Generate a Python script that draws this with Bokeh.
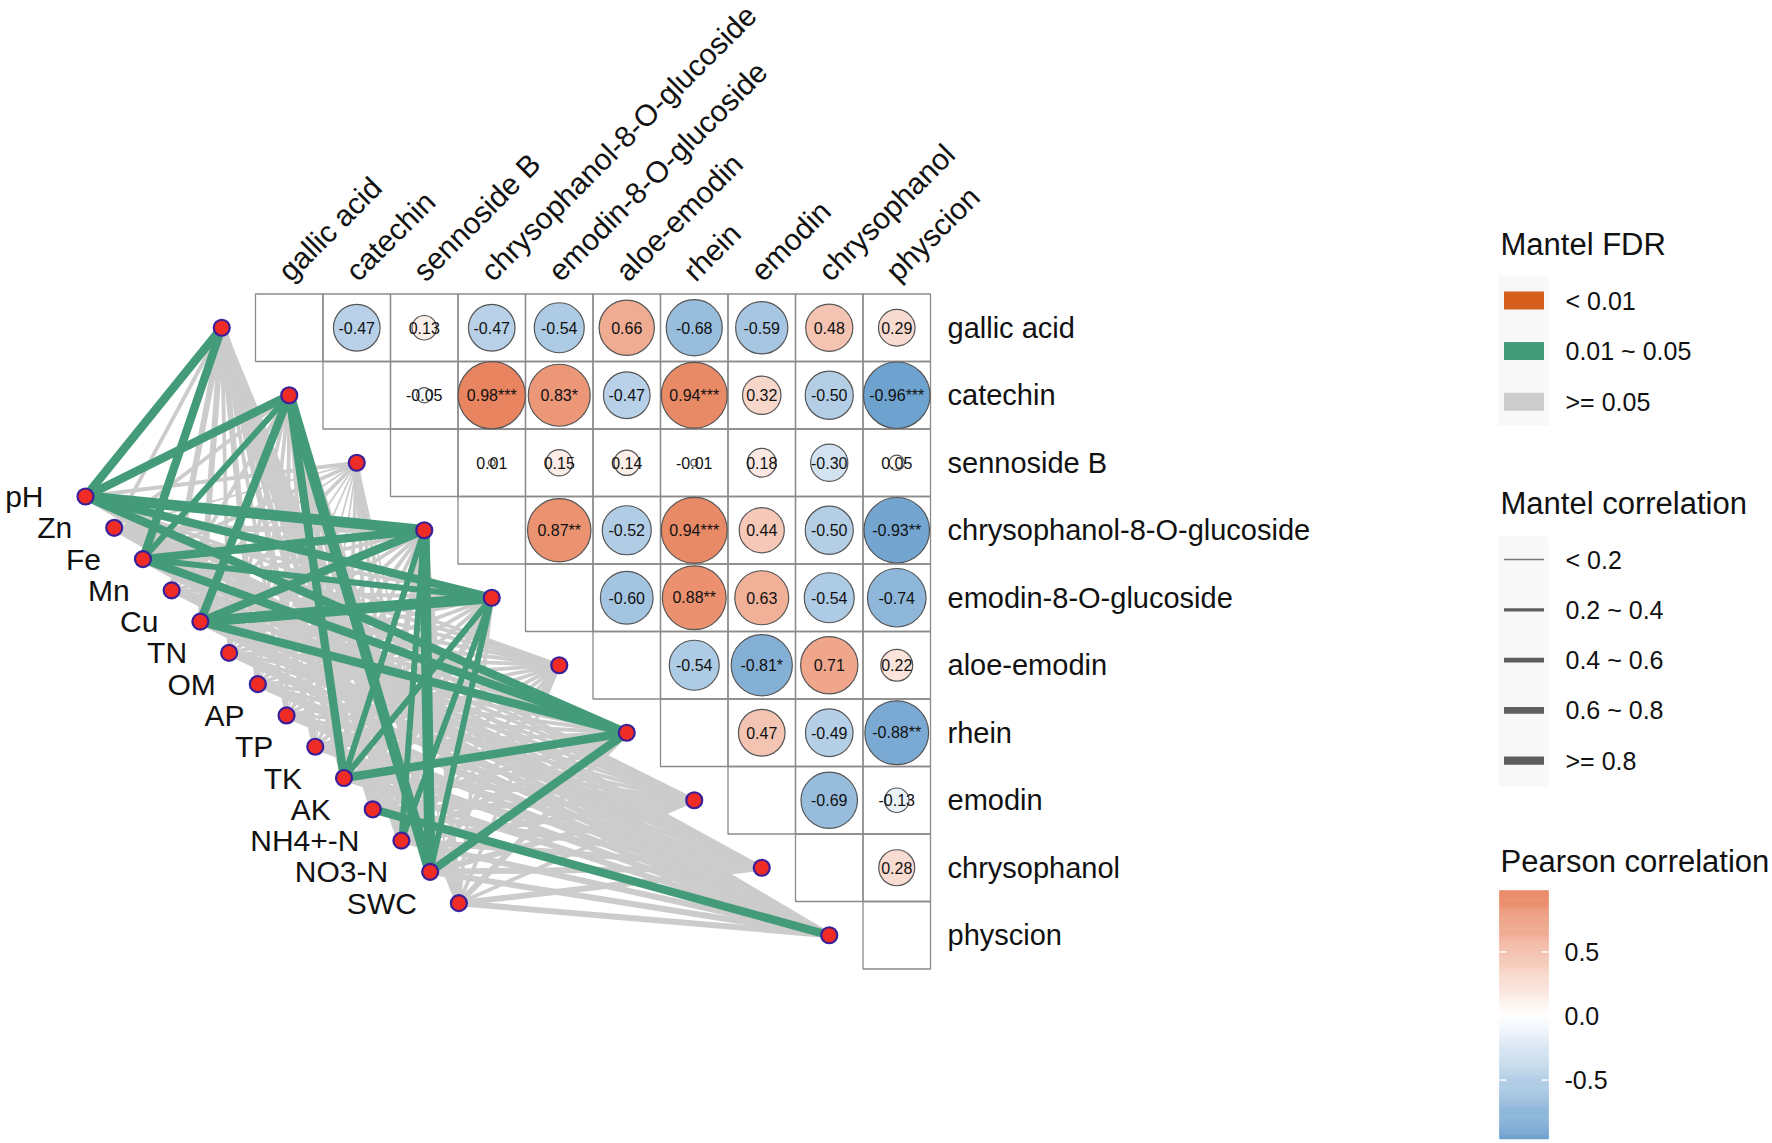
import numpy as np
from bokeh.plotting import figure
from bokeh.models import Range1d, ColumnDataSource
from bokeh.embed import file_html
from bokeh.resources import INLINE
from bokeh.core.properties import value

# ---------------- data ----------------
compounds = ["gallic acid", "catechin", "sennoside B", "chrysophanol-8-O-glucoside",
             "emodin-8-O-glucoside", "aloe-emodin", "rhein", "emodin",
             "chrysophanol", "physcion"]
env_factors = ["pH", "Zn", "Fe", "Mn", "Cu", "TN", "OM", "AP", "TP", "TK", "AK",
               "NH4+-N", "NO3-N", "SWC"]

# Pearson correlations, upper triangle (row i, columns i+1 ...)
pearson_upper = [
    [-0.47, 0.13, -0.47, -0.54, 0.66, -0.68, -0.59, 0.48, 0.29],
    [-0.05, 0.98, 0.83, -0.47, 0.94, 0.32, -0.50, -0.96],
    [0.01, 0.15, 0.14, -0.01, 0.18, -0.30, 0.05],
    [0.87, -0.52, 0.94, 0.44, -0.50, -0.93],
    [-0.60, 0.88, 0.63, -0.54, -0.74],
    [-0.54, -0.81, 0.71, 0.22],
    [0.47, -0.49, -0.88],
    [-0.69, -0.13],
    [0.28],
    [],
]
pearson_stars = [
    ["", "", "", "", "", "", "", "", ""],
    ["", "***", "*", "", "***", "", "", "***"],
    ["", "", "", "", "", "", ""],
    ["**", "", "***", "", "", "**"],
    ["", "**", "", "", ""],
    ["", "*", "", ""],
    ["", "", "**"],
    ["", ""],
    [""],
    [],
]

# Mantel r (rows: env factors, columns: compounds)
mantel_r = [
    [0.70, 0.70, 0.20, 0.85, 0.70, 0.30, 0.70, 0.30, 0.35, 0.40],  # pH
    [0.35, 0.35, 0.15, 0.40, 0.35, 0.30, 0.40, 0.30, 0.30, 0.40],  # Zn
    [0.75, 0.55, 0.20, 0.70, 0.55, 0.30, 0.70, 0.35, 0.35, 0.45],  # Fe
    [0.40, 0.35, 0.15, 0.35, 0.30, 0.25, 0.35, 0.30, 0.30, 0.35],  # Mn
    [0.50, 0.65, 0.20, 0.70, 0.85, 0.35, 0.65, 0.35, 0.40, 0.50],  # Cu
    [0.35, 0.35, 0.12, 0.35, 0.35, 0.25, 0.35, 0.30, 0.30, 0.40],  # TN
    [0.40, 0.30, 0.15, 0.35, 0.35, 0.25, 0.35, 0.30, 0.35, 0.45],  # OM
    [0.35, 0.35, 0.12, 0.30, 0.30, 0.22, 0.30, 0.25, 0.30, 0.40],  # AP
    [0.45, 0.35, 0.15, 0.35, 0.35, 0.25, 0.35, 0.30, 0.35, 0.45],  # TP
    [0.50, 0.65, 0.20, 0.55, 0.55, 0.35, 0.70, 0.40, 0.40, 0.55],  # TK
    [0.55, 0.45, 0.20, 0.45, 0.40, 0.30, 0.45, 0.40, 0.45, 0.65],  # AK
    [0.65, 0.55, 0.22, 0.60, 0.55, 0.35, 0.50, 0.45, 0.45, 0.60],  # NH4+-N
    [0.50, 0.85, 0.22, 0.85, 0.60, 0.40, 0.70, 0.45, 0.50, 0.60],  # NO3-N
    [0.40, 0.45, 0.15, 0.40, 0.35, 0.30, 0.40, 0.35, 0.40, 0.55],  # SWC
]
# Mantel FDR-adjusted p
mantel_fdr = [
    [0.03, 0.03, 0.60, 0.02, 0.03, 0.30, 0.03, 0.40, 0.30, 0.20],
    [0.20, 0.25, 0.70, 0.15, 0.20, 0.40, 0.15, 0.50, 0.40, 0.30],
    [0.03, 0.04, 0.60, 0.03, 0.04, 0.30, 0.03, 0.45, 0.35, 0.20],
    [0.20, 0.25, 0.70, 0.20, 0.30, 0.45, 0.25, 0.50, 0.45, 0.35],
    [0.12, 0.03, 0.60, 0.03, 0.02, 0.30, 0.03, 0.40, 0.35, 0.15],
    [0.25, 0.25, 0.70, 0.25, 0.25, 0.45, 0.25, 0.45, 0.40, 0.30],
    [0.20, 0.30, 0.70, 0.25, 0.25, 0.40, 0.25, 0.45, 0.35, 0.20],
    [0.25, 0.25, 0.75, 0.25, 0.30, 0.50, 0.30, 0.50, 0.45, 0.30],
    [0.15, 0.25, 0.70, 0.25, 0.25, 0.40, 0.25, 0.40, 0.35, 0.20],
    [0.12, 0.03, 0.60, 0.04, 0.04, 0.30, 0.03, 0.30, 0.30, 0.12],
    [0.10, 0.15, 0.60, 0.15, 0.20, 0.35, 0.15, 0.30, 0.20, 0.04],
    [0.07, 0.10, 0.55, 0.04, 0.045, 0.30, 0.10, 0.25, 0.25, 0.10],
    [0.12, 0.02, 0.55, 0.02, 0.04, 0.25, 0.03, 0.25, 0.20, 0.10],
    [0.20, 0.15, 0.70, 0.20, 0.25, 0.35, 0.20, 0.30, 0.30, 0.12],
]

fdr_labels = ["< 0.01", "0.01 ~ 0.05", ">= 0.05"]
r_labels = ["< 0.2", "0.2 ~ 0.4", "0.4 ~ 0.6", "0.6 ~ 0.8", ">= 0.8"]
cbar_ticks = [0.5, 0.0, -0.5]

# ---------------- style ----------------
FONT = value("Liberation Sans")
FDR_COLORS = ["#D65F1E", "#449B79", "#CCCCCC"]
KEY_WIDTHS = [1.5, 3.2, 4.9, 6.6, 8.3]
EDGE_WIDTHS = [1.8, 3.8, 6.0, 8.4, 10.8]
POS = np.array([232, 130, 92])
NEG = np.array([104, 158, 205])
WHITE = np.array([255, 255, 255])


def pcol(v):
    c = WHITE + (POS - WHITE) * v if v >= 0 else WHITE + (NEG - WHITE) * (-v)
    return "#%02x%02x%02x" % tuple(int(round(x)) for x in c)


def fdr_class(pv):
    return 0 if pv < 0.01 else (1 if pv < 0.05 else 2)


def r_class(r):
    return min(int(r / 0.2), 4)


W, H = 1770, 1141
p = figure(width=W, height=H, x_range=Range1d(0, W), y_range=Range1d(H, 0),
           output_backend="svg", toolbar_location=None, min_border=0,
           x_axis_location=None, y_axis_location=None)
p.xgrid.visible = False
p.ygrid.visible = False
p.outline_line_color = None
p.background_fill_color = "white"

# layout
GX, GY, CELL = 255.0, 293.5, 67.5
n = len(compounds)


def cx(j):
    return GX + CELL * (j + 0.5)


def cy(i):
    return GY + CELL * (i + 0.5)


comp_x = [cx(i) - CELL for i in range(n)]
comp_y = [cy(i) for i in range(n)]
m = len(env_factors)
env_x = [85 + 28.72 * k for k in range(m)]
env_y = [496 + 31.28 * k for k in range(m)]

# ---------------- network edges ----------------
edges = []
for k in range(m):
    for j in range(n):
        edges.append((fdr_class(mantel_fdr[k][j]), k, j))
edges.sort(key=lambda e: -e[0])
es = ColumnDataSource(dict(
    xs=[[env_x[k], comp_x[j]] for c, k, j in edges],
    ys=[[env_y[k], comp_y[j]] for c, k, j in edges],
    color=[FDR_COLORS[c] for c, k, j in edges],
    w=[EDGE_WIDTHS[r_class(mantel_r[k][j])] for c, k, j in edges],
))
p.multi_line(xs="xs", ys="ys", line_color="color", line_width="w", source=es)

# nodes
p.scatter(x=comp_x + env_x, y=comp_y + env_y, size=16, marker="circle",
          fill_color="#EE2B25", line_color="#3A1F9C", line_width=2.2)

# env labels
p.text(x=[x - 42 for x in env_x], y=env_y, text=env_factors, text_align="right",
       text_baseline="middle", text_font=FONT, text_font_size="30px", text_color="#111111")

# ---------------- correlation matrix ----------------
gx, gy = [], []
for i in range(n):
    for j in range(i, n):
        gx.append(cx(j))
        gy.append(cy(i))
p.rect(x=gx, y=gy, width=CELL, height=CELL, fill_color=None,
       line_color="#8A8A8A", line_width=1.3)

px_, py_, pr, pc, pt = [], [], [], [], []
for i, row in enumerate(pearson_upper):
    for t, v in enumerate(row):
        j = i + 1 + t
        px_.append(cx(j))
        py_.append(cy(i))
        pr.append(34.0 * np.sqrt(abs(v)))
        pc.append(pcol(v))
        pt.append(f"{v:.2f}{pearson_stars[i][t]}")
p.circle(x=px_, y=py_, radius=pr, fill_color=pc, line_color="#555555", line_width=1.2)
p.text(x=px_, y=py_, text=pt, text_align="center", text_baseline="middle",
       text_font=FONT, text_font_size="16px", text_color="#111111")

# row labels
p.text(x=[GX + CELL * n + 17] * n, y=comp_y, text=compounds, text_align="left",
       text_baseline="middle", text_font=FONT, text_font_size="29px", text_color="#111111")
# column labels
p.text(x=[cx(j) - 6 for j in range(n)], y=[275] * n, text=compounds, angle=np.pi / 4,
       text_align="left", text_baseline="alphabetic", text_font=FONT,
       text_font_size="30px", text_color="#111111")

# ---------------- legends ----------------
LX = 1500
p.text(x=[LX, LX, LX], y=[244, 503, 861],
       text=["Mantel FDR", "Mantel correlation", "Pearson correlation"],
       text_align="left", text_baseline="middle", text_font=FONT,
       text_font_size="31px", text_color="#111111")

# FDR legend
p.quad(left=[1498, 1498], right=[1548, 1548], top=[275, 536], bottom=[425, 786],
       fill_color="#F8F8F8", line_color=None)
fy = [300 + 50.6 * i for i in range(3)]
p.rect(x=[1523.5] * 3, y=fy, width=40, height=18, fill_color=FDR_COLORS, line_color=None)
p.text(x=[1565] * 3, y=fy, text=fdr_labels, text_align="left", text_baseline="middle",
       text_font=FONT, text_font_size="25px", text_color="#111111")

# Mantel r legend
ly = [559 + 50.3 * i for i in range(5)]
p.segment(x0=[1503.5] * 5, x1=[1543.5] * 5, y0=ly, y1=ly, line_width=KEY_WIDTHS,
          line_color=["#7A7A7A", "#5E5E5E", "#5E5E5E", "#5E5E5E", "#5E5E5E"])
p.text(x=[1565] * 5, y=ly, text=r_labels, text_align="left", text_baseline="middle",
       text_font=FONT, text_font_size="25px", text_color="#111111")

# Pearson colorbar
allv = [v for row in pearson_upper for v in row]
vmin, vmax = min(allv), max(allv)
CB_TOP, CB_BOT = 890.0, 1138.5
scale = (CB_BOT - CB_TOP) / (vmax - vmin)


def vy(v):
    return CB_TOP + (vmax - v) * scale


edgesv = np.linspace(vmin, vmax, 241)
mids = (edgesv[:-1] + edgesv[1:]) / 2
p.quad(left=1499, right=1548, top=[vy(v) for v in edgesv[1:]],
       bottom=[vy(v) for v in edgesv[:-1]], fill_color=[pcol(v) for v in mids],
       line_color=[pcol(v) for v in mids], line_width=0.5)
ty = [vy(t) for t in cbar_ticks]
p.segment(x0=[1499] * 3 + [1541] * 3, x1=[1506] * 3 + [1548] * 3, y0=ty + ty, y1=ty + ty,
          line_color="white", line_width=1.5)
p.text(x=[1564] * 3, y=ty, text=[f"{t:.1f}" for t in cbar_ticks], text_align="left",
       text_baseline="middle", text_font=FONT, text_font_size="25px", text_color="#111111")

open("out.html", "w").write(file_html(p, INLINE))
